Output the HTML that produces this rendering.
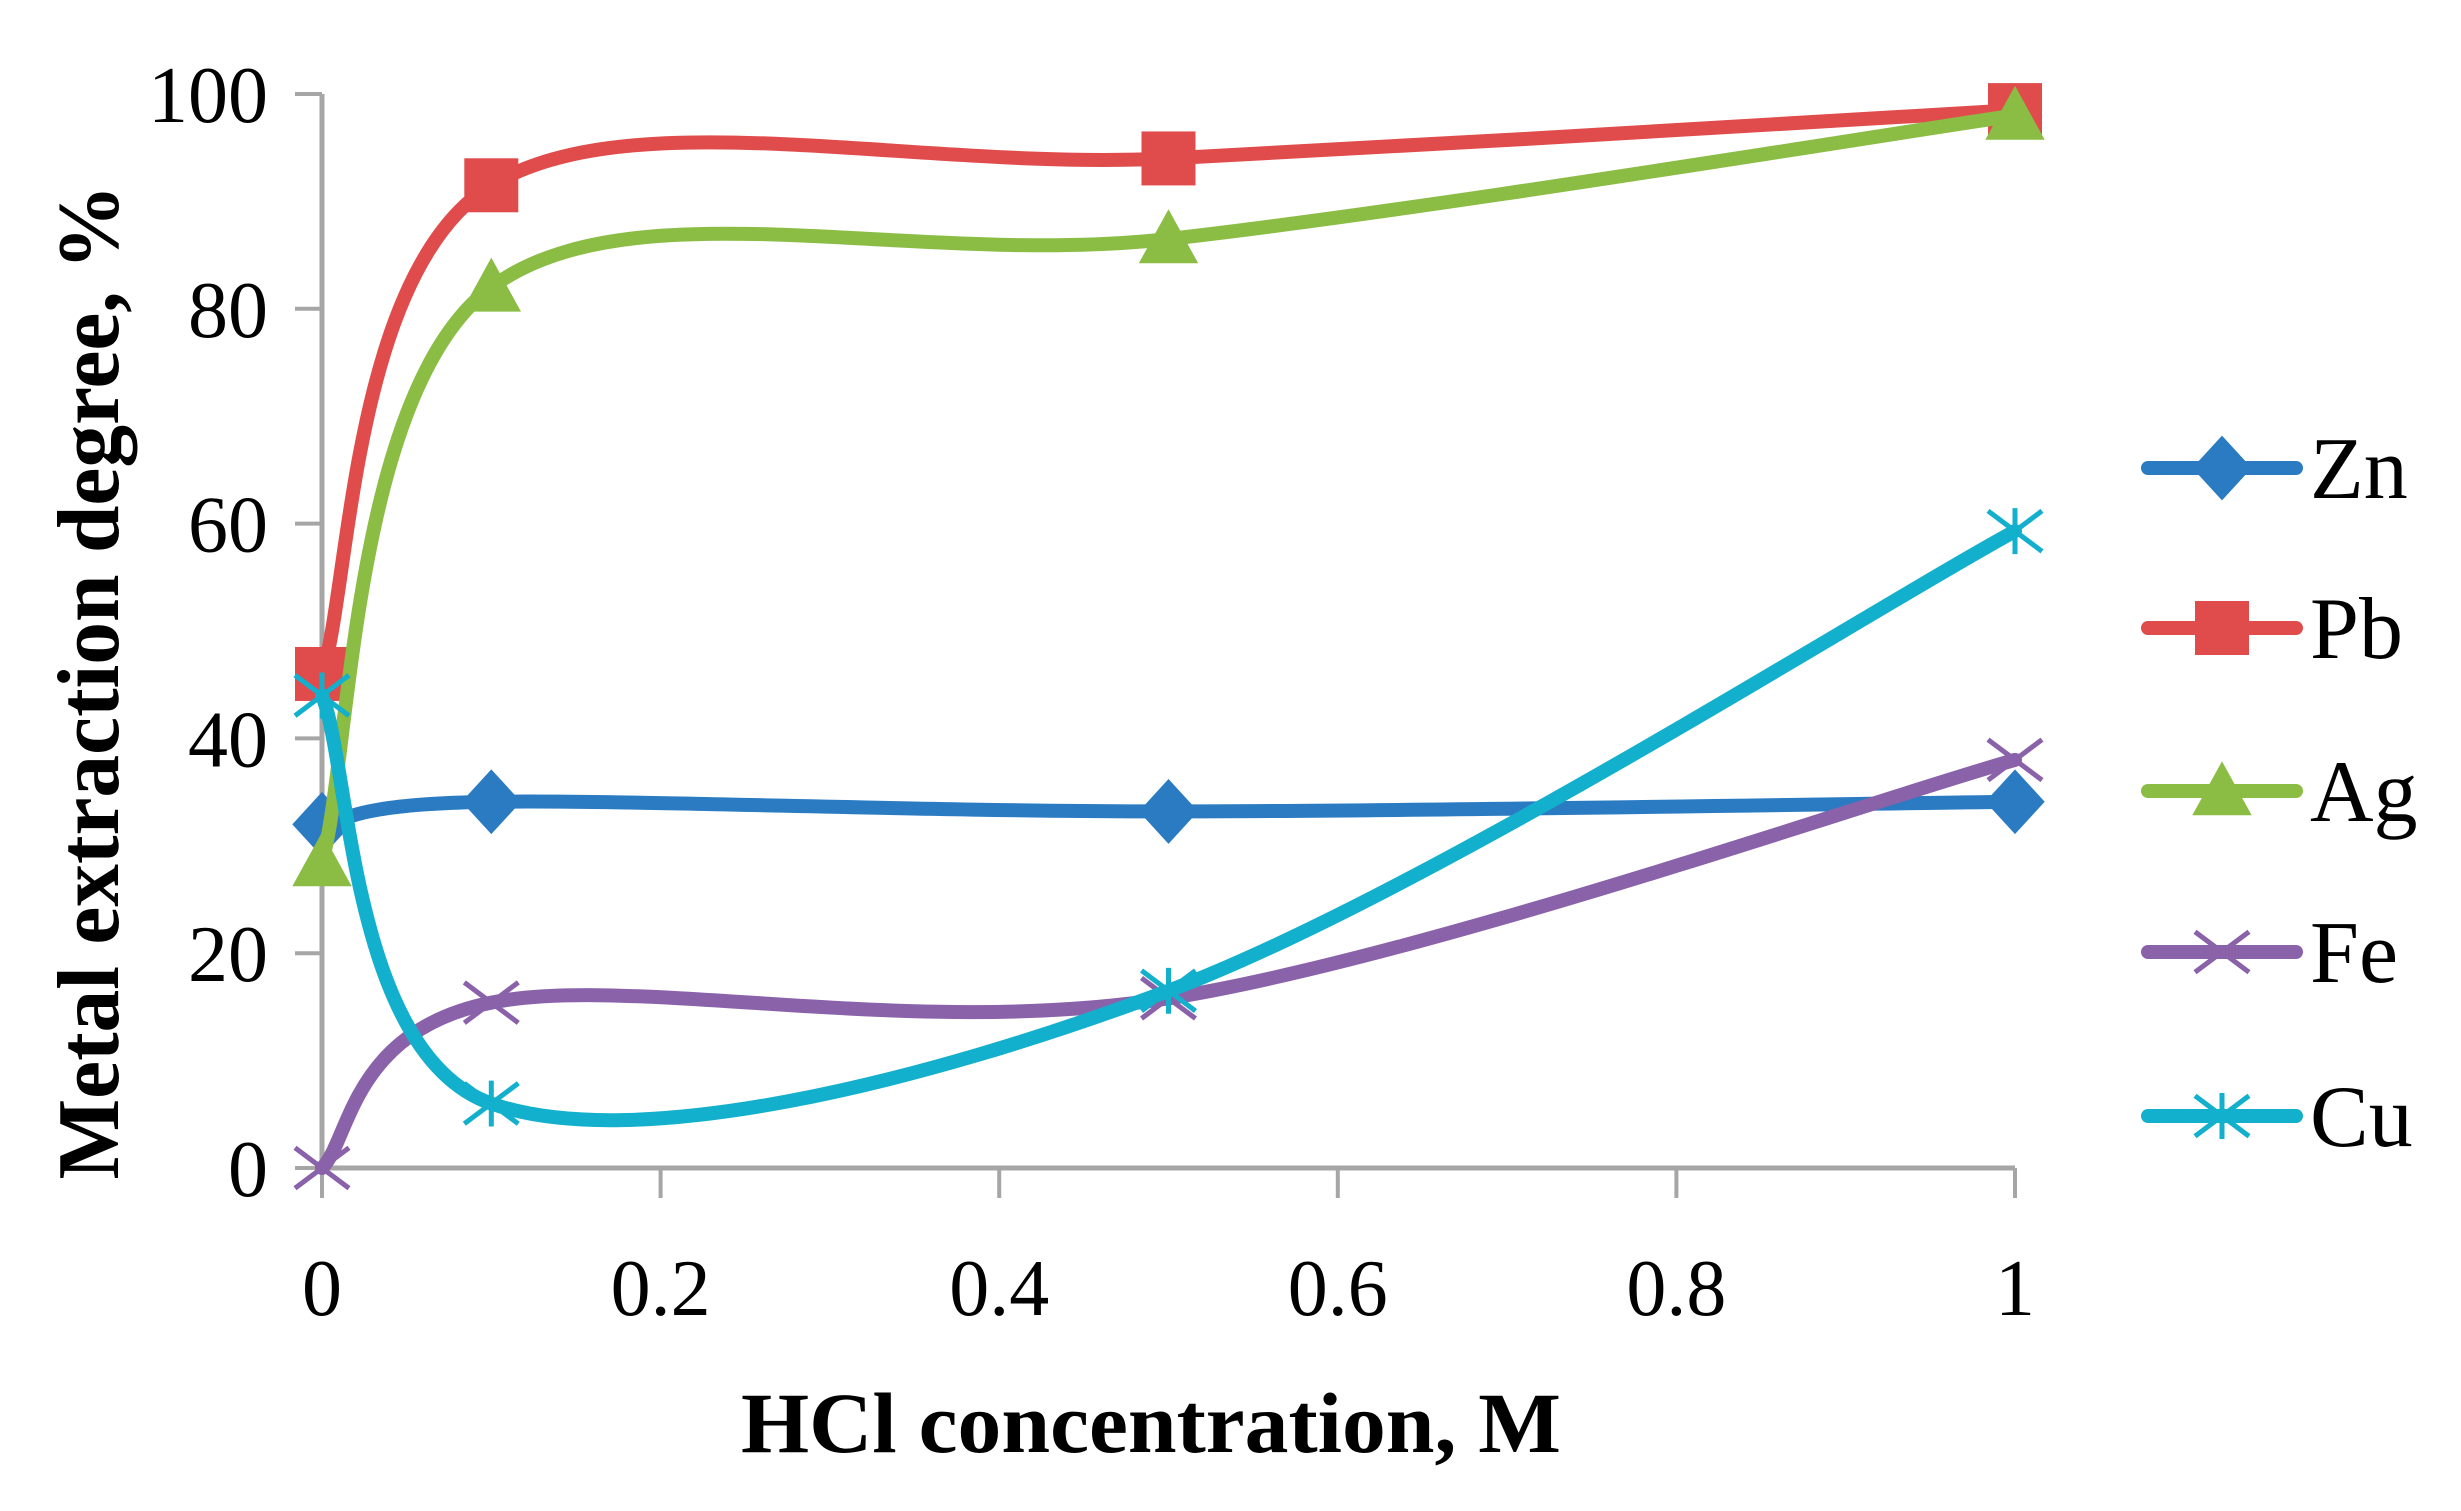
<!DOCTYPE html>
<html><head><meta charset="utf-8"><style>
html,body{margin:0;padding:0;background:#fff;}
svg{display:block;}
text{font-family:"Liberation Serif",serif;fill:#000;}
</style></head><body>
<svg id="chart" width="2461" height="1511" viewBox="0 0 2461 1511" xmlns="http://www.w3.org/2000/svg">
<g id="axes"></g>
<g id="series"></g>
<g id="legend"></g>
<text transform="translate(118,682) rotate(-90)" text-anchor="middle" font-size="88" font-weight="bold" textLength="995" lengthAdjust="spacingAndGlyphs">Metal extraction degree, %</text>
<text x="1151" y="1452" text-anchor="middle" font-size="86" font-weight="bold" textLength="820" lengthAdjust="spacingAndGlyphs">HCl concentration, M</text>
</svg>
<script>
const xValues = [0, 0.1, 0.5, 1];
const seriesNames = ["Zn", "Pb", "Ag", "Fe", "Cu"];
const znValues = [32, 34.1, 33.2, 34.1];
const pbValues = [46, 91.5, 94, 98.5];
const agValues = [28.5, 82, 86.5, 98];
const feValues = [0, 15.4, 15.8, 38];
const cuValues = [44, 6, 16.5, 59.3];
const xTicks = [0, 0.2, 0.4, 0.6, 0.8, 1];
const xTickLabels = ["0", "0.2", "0.4", "0.6", "0.8", "1"];
const yTicks = [0, 20, 40, 60, 80, 100];
const yTickLabels = ["0", "20", "40", "60", "80", "100"];

const NS = "http://www.w3.org/2000/svg";
const X0 = 322, X1 = 2015, Y0 = 1168, Y100 = 94;
function xs(v){ return X0 + (X1 - X0) * v; }
function ys(v){ return Y0 - (Y0 - Y100) * v / 100; }
function mk(tag, attrs, parent){
  const e = document.createElementNS(NS, tag);
  for (const k in attrs) e.setAttribute(k, attrs[k]);
  parent.appendChild(e);
  return e;
}
const axes = document.getElementById("axes");
const gray = "#a6a6a6";
let l = mk("line", {x1:X0, y1:ys(100), x2:X0, y2:Y0, stroke:gray, "stroke-width":5}, axes);


l = mk("line", {x1:X0-3, y1:Y0, x2:X1, y2:Y0, stroke:gray, "stroke-width":5}, axes);


yTicks.forEach((t, i) => {
  const tk = mk("line", {x1:X0-27, y1:ys(t), x2:X0, y2:ys(t), stroke:gray, "stroke-width":4}, axes);
  
  
  const tx = mk("text", {x:268, y:ys(t)+28, "text-anchor":"end", "font-size":80}, axes);
  tx.textContent = yTickLabels[i];
  
  
});
xTicks.forEach((t, i) => {
  const tk = mk("line", {x1:xs(t), y1:Y0, x2:xs(t), y2:Y0+30, stroke:gray, "stroke-width":4}, axes);
  
  
  const tx = mk("text", {x:xs(t), y:1315, "text-anchor":"middle", "font-size":80}, axes);
  tx.textContent = xTickLabels[i];
  
  
});

const colors = {Zn:"#2a7bc2", Pb:"#e04b4b", Ag:"#8bbd45", Fe:"#8a62aa", Cu:"#12b0cc"};
const valuesByName = {Zn:znValues, Pb:pbValues, Ag:agValues, Fe:feValues, Cu:cuValues};

function smoothPath(pts){
  let d = "M" + pts[0][0] + "," + pts[0][1];
  for (let i = 0; i < pts.length - 1; i++){
    const p0 = pts[Math.max(i-1,0)], p1 = pts[i], p2 = pts[i+1], p3 = pts[Math.min(i+2, pts.length-1)];
    const c1 = [p1[0] + (p2[0]-p0[0])/6, p1[1] + (p2[1]-p0[1])/6];
    const c2 = [p2[0] - (p3[0]-p1[0])/6, p2[1] - (p3[1]-p1[1])/6];
    d += " C" + c1[0] + "," + c1[1] + " " + c2[0] + "," + c2[1] + " " + p2[0] + "," + p2[1];
  }
  return d;
}
function marker(name, cx, cy, parent, s){
  const c = colors[name];
  let e;
  if (name === "Zn") e = mk("polygon", {points:`${cx},${cy-s*0.6} ${cx+s*0.55},${cy} ${cx},${cy+s*0.6} ${cx-s*0.55},${cy}`, fill:c}, parent);
  else if (name === "Pb") e = mk("rect", {x:cx-s/2, y:cy-s/2, width:s, height:s, fill:c}, parent);
  else if (name === "Ag") e = mk("polygon", {points:`${cx},${cy-s*0.55} ${cx+s*0.55},${cy+s*0.45} ${cx-s*0.55},${cy+s*0.45}`, fill:c}, parent);
  else {
    e = mk("g", {stroke:c, "stroke-width":5}, parent);
    const h = s/2;
    mk("line", {x1:cx-h, y1:cy-h*0.75, x2:cx+h, y2:cy+h*0.75}, e);
    mk("line", {x1:cx-h, y1:cy+h*0.75, x2:cx+h, y2:cy-h*0.75}, e);
    if (name === "Cu") mk("line", {x1:cx, y1:cy-h*0.85, x2:cx, y2:cy+h*0.85}, e);
  }
  return e;
}
const sg = document.getElementById("series");
const lg = document.getElementById("legend");
const legendY = [468, 628, 791, 952, 1116];
seriesNames.forEach((name, si) => {
  const vals = valuesByName[name];
  const g = mk("g", {}, sg);
  
  
  const pts = xValues.map((x, i) => [xs(x), ys(vals[i])]);
  const p = mk("path", {d:smoothPath(pts), fill:"none", stroke:colors[name], "stroke-width":14, "stroke-linecap":"round", "stroke-linejoin":"round"}, g);
  
  
  pts.forEach(pt => {
    const m = marker(name, pt[0], pt[1], g, 54);
    
    
  });
  const le = mk("g", {}, lg);
  
  
  const y = legendY[si];
  mk("line", {x1:2148, y1:y, x2:2296, y2:y, stroke:colors[name], "stroke-width":14, "stroke-linecap":"round"}, le);
  marker(name, 2222, y, le, 54);
  const t = mk("text", {x:2310, y:y+30, "font-size":88}, le);
  t.textContent = name;
});
</script>
</body></html>
